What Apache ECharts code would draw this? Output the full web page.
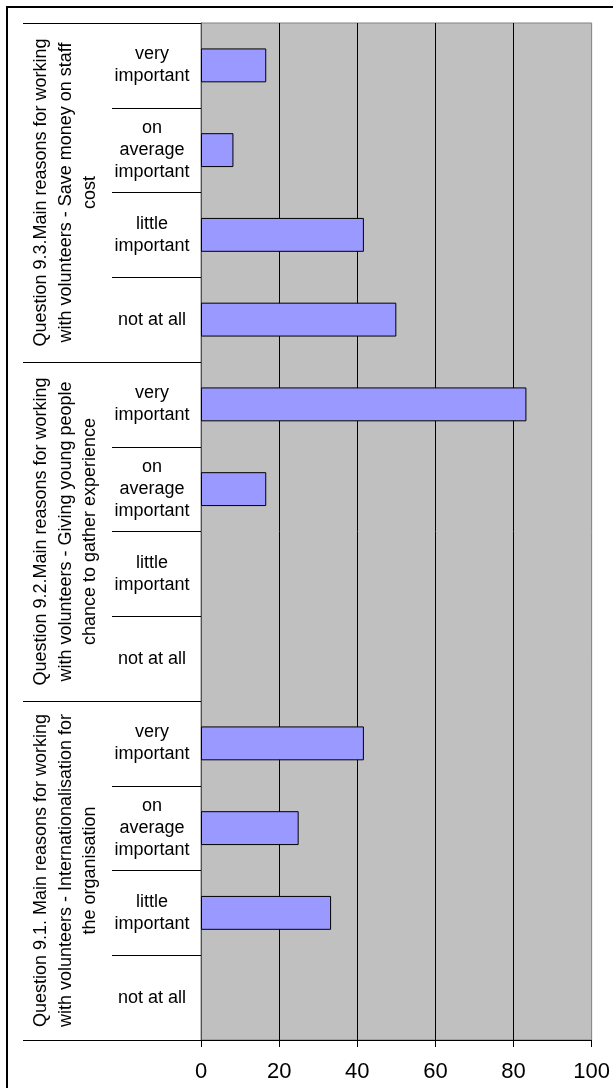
<!DOCTYPE html>
<html>
<head>
<meta charset="utf-8">
<script src="https://cdn.jsdelivr.net/npm/echarts@6/dist/echarts.min.js"></script>
<style>
  html, body { margin: 0; padding: 0; background: #fff; }
  #chart { width: 613px; height: 1088px; }
</style>
</head>
<body>
<div id="chart"></div>
<script>
// Question groups (top to bottom), each spanning four answer categories
const groups = [
  'Question 9.3.Main reasons for working\nwith volunteers - Save money on staff\ncost',
  'Question 9.2.Main reasons for working\nwith volunteers - Giving young people\nchance to gather experience',
  'Question 9.1. Main reasons for working\nwith volunteers - Internationalisation for\nthe organisation'
];

// Answer categories within each group
const answers = ['very\nimportant', 'on\naverage\nimportant', 'little\nimportant', 'not at all'];

// Percentages per group, in the order of the answers above
const q93 = [16.7, 8.3, 41.7, 50];
const q92 = [83.3, 16.7, 0, 0];
const q91 = [41.7, 25, 33.3, 0];

// Value axis range
const xMin = 0, xMax = 100, xStep = 20;

const categories = [].concat(answers, answers, answers);
const values = [].concat(q93, q92, q91);

const FONT = '"Liberation Sans", Arial, Helvetica, sans-serif';

// Empty answers get no outline so nothing shows on the axis
const barData = values.map(v => v === 0
  ? { value: v, itemStyle: { borderWidth: 0 } }
  : v);

const chart = echarts.init(document.getElementById('chart'), null, { renderer: 'canvas' });

chart.setOption({
  animation: false,
  backgroundColor: '#ffffff',
  textStyle: { fontFamily: FONT },
  grid: {
    left: 201, right: 18, top: 23, bottom: 48,
    show: true,
    backgroundColor: '#C0C0C0',
    borderColor: '#808080',
    borderWidth: 1
  },
  graphic: [{
    type: 'rect',
    shape: { x: 7, y: 7, width: 800, height: 1200 },
    style: { fill: 'none', stroke: '#000', lineWidth: 2 },
    silent: true
  }],
  xAxis: {
    type: 'value',
    min: xMin, max: xMax, interval: xStep,
    axisLine: { show: true, lineStyle: { color: '#000', width: 1 } },
    axisTick: { show: true, length: 7, lineStyle: { color: '#000' } },
    axisLabel: { fontSize: 22, color: '#000', margin: 21, fontFamily: FONT },
    splitLine: { show: true, showMinLine: false, showMaxLine: false, lineStyle: { color: '#000', width: 1 } }
  },
  yAxis: [{
    type: 'category',
    data: categories,
    inverse: true,
    position: 'left',
    axisLine: { show: true, onZero: false, lineStyle: { color: '#505050', width: 1 } },
    axisTick: { show: true, length: 89, alignWithLabel: false, lineStyle: { color: '#000' } },
    axisLabel: {
      fontSize: 18, color: '#000', margin: 49, align: 'center',
      lineHeight: 22, fontFamily: FONT, interval: 0
    },
    splitLine: { show: false }
  }, {
    type: 'category',
    data: groups,
    inverse: true,
    position: 'left',
    offset: 0,
    axisLine: { show: false },
    axisTick: { show: true, length: 178, lineStyle: { color: '#000' } },
    axisLabel: {
      fontSize: 18, color: '#000', rotate: 90, margin: 135,
      align: 'center', verticalAlign: 'middle',
      lineHeight: 24.5, fontFamily: FONT, interval: 0
    },
    splitLine: { show: false }
  }],
  series: [{
    type: 'bar',
    yAxisIndex: 0,
    data: barData,
    barWidth: '40%',
    itemStyle: { color: '#9999FF', borderColor: '#000', borderWidth: 1 }
  }]
});
</script>
</body>
</html>
